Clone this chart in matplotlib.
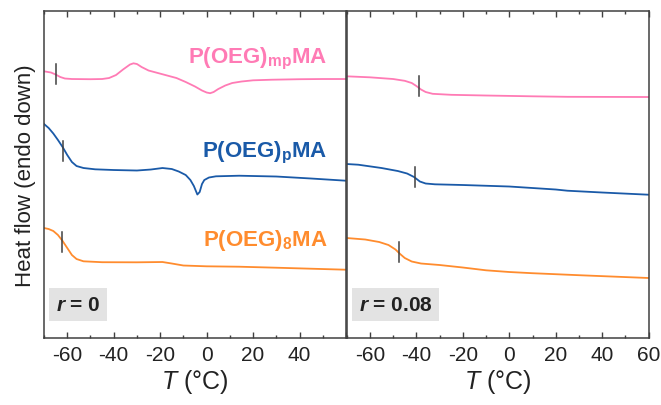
import numpy as np
import matplotlib
matplotlib.use("Agg")
import matplotlib.pyplot as plt
from matplotlib.ticker import MultipleLocator, FuncFormatter

plt.rcParams["font.family"] = "Liberation Sans"
plt.rcParams["axes.unicode_minus"] = False
plt.rcParams["mathtext.fontset"] = "custom"
plt.rcParams["mathtext.rm"] = "Liberation Sans"
plt.rcParams["mathtext.it"] = "Liberation Sans:italic"
plt.rcParams["mathtext.bf"] = "Liberation Sans:bold"
plt.rcParams["mathtext.bfit"] = "Liberation Sans:bold:italic"

# --- dados (fluxo de calor em unidades arbitrárias) ---
# painel r = 0
T_mp_0 = [-70, -67, -65, -63, -61, -58, -50, -45, -42, -39, -36, -33, -31.5, -30, -28, -25,
          -21, -17, -13, -9, -5, -2, 0, 1.5, 3, 5, 8, 11, 15, 20, 28, 40, 50, 60]
hf_mp_0 = [266.7, 265.5, 263.5, 261, 259.5, 259, 258.8, 259, 260, 263, 268.5, 273.5, 274.7, 274,
           271, 267.5, 265, 262.5, 260, 256, 251.5, 247.5, 245.5, 244.8, 246, 249, 252.5, 255,
           256.5, 257.7, 258.3, 258.8, 259, 259]

T_p_0 = [-70, -68, -66, -64, -62, -60, -58, -56, -53, -48, -40, -30, -24, -19, -15, -12, -9,
         -7, -5.5, -4, -3, -2, -1, 1, 4, 14, 30, 45, 60]
hf_p_0 = [214, 210, 204.5, 198, 191, 183, 176, 172, 170, 168.7, 168, 167.5, 168.5, 170, 169,
          166.5, 163, 158, 152, 143.5, 146, 154, 158, 160.5, 161.7, 162.3, 161.5, 159.5, 157.3]

T_8_0 = [-70, -68, -66, -64, -62, -60, -58, -56, -53, -45, -30, -19, -15, -10, 0, 14, 30, 45, 60]
hf_8_0 = [110, 109, 107, 103, 97, 90, 83, 79, 76.7, 75.8, 75.7, 76, 74.5, 72.5, 71.7, 71.3,
          70.3, 69.3, 68.3]

# painel r = 0.08
T_mp_1 = [-70, -60, -50, -45, -42, -40, -38, -36, -33, -25, -10, 10, 25, 60]
hf_mp_1 = [261.7, 260.7, 259, 257.2, 255, 252, 248.5, 246, 244.2, 243.2, 242.5, 241.7, 241.2, 241]

T_p_1 = [-70, -65, -55, -48, -44, -41, -38.5, -36, -32, -20, 0, 10, 20, 25, 40, 60]
hf_p_1 = [174, 173.3, 170, 167, 164.5, 161, 156.5, 154.5, 153.7, 153, 151.5, 150, 148.5, 147.3,
          145.5, 143.3]

T_8_1 = [-70, -62, -56, -52, -49, -47, -45, -42, -38, -30, -20, -10, 0, 10, 30, 60]
hf_8_1 = [100, 98.5, 96, 93, 88.5, 84, 80, 76.5, 74.5, 73, 70.5, 67.7, 66, 64.8, 62.8, 60]

# Tg (marcas verticais)
tg_0 = [-65, -62, -62.4]
tg_hf_0 = [264, 187, 96]
tg_1 = [-38.9, -40.6, -47.5]
tg_hf_1 = [252, 161, 86.3]

nomes = ["mp", "p", "8"]
cores = ["#FF7BB5", "#1A5AA8", "#FF8C2E"]
rotulos_r = ["0", "0.08"]

paineis = [
    ([T_mp_0, T_p_0, T_8_0], [hf_mp_0, hf_p_0, hf_8_0], tg_0, tg_hf_0),
    ([T_mp_1, T_p_1, T_8_1], [hf_mp_1, hf_p_1, hf_8_1], tg_1, tg_hf_1),
]

fig = plt.figure(figsize=(6.61, 4.06), dpi=100)
ax0 = fig.add_axes([0.0666, 0.165, 0.4569, 0.8054])
ax1 = fig.add_axes([0.5245, 0.165, 0.4569, 0.8054])

for i, (ax, (Ts, hfs, tgs, tghf)) in enumerate(zip([ax0, ax1], paineis)):
    for T, hf, c in zip(Ts, hfs, cores):
        ax.plot(T, hf, color=c, lw=1.3, solid_joinstyle="round")
    for t, h in zip(tgs, tghf):
        ax.plot([t, t], [h - 10, h + 10], color="#404040", lw=1.1)

    ax.set_xlim(-70, 60)
    ax.set_ylim(0, 327)
    ax.set_yticks([])
    ax.xaxis.set_major_locator(MultipleLocator(20))
    ax.xaxis.set_minor_locator(MultipleLocator(10))
    ax.tick_params(axis="x", which="both", direction="in", top=True, bottom=True,
                   labelsize=15, pad=5, color="#404040", labelcolor="#222222")
    ax.tick_params(axis="x", which="major", length=4.5, width=1)
    ax.tick_params(axis="x", which="minor", length=2.3, width=1)
    for s in ax.spines.values():
        s.set_color("#404040")
        s.set_linewidth(1.1)
    ax.set_xlabel(r"$T$ (°C)", fontsize=18, labelpad=2, color="#222222")

    ax.text(0.04, 0.102, r"$\mathbfit{r}$ = " + rotulos_r[i], transform=ax.transAxes,
            fontsize=15, fontweight="bold", ha="left", va="center", color="#222222",
            bbox=dict(boxstyle="square,pad=0.32", fc="#E3E3E3", ec="none"))

# nomes das séries no painel esquerdo
for nome, c, yb in zip(nomes, cores, [275.7, 181.3, 93]):
    ax0.text(52, yb, r"$\mathbf{P(OEG)_{" + nome + r"}MA}$", color=c, fontsize=16,
             ha="right", va="baseline")

# no painel esquerdo o rótulo 60 não aparece (encosta no painel da direita)
ax0.xaxis.set_major_formatter(FuncFormatter(lambda v, p: "" if v >= 60 else f"{v:.0f}"))

ax0.set_ylabel("Heat flow (endo down)", fontsize=16, labelpad=6, color="#222222")

fig.savefig("out.png", dpi=100)
